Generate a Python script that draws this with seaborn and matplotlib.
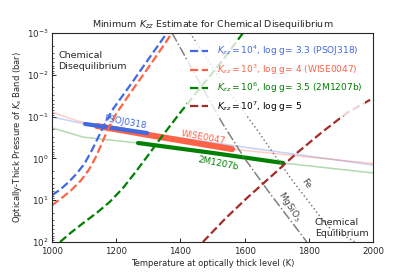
import numpy as np
import matplotlib
matplotlib.use("Agg")
import matplotlib.pyplot as plt
import seaborn as sns

# Kzz quench curves: temperature (K) and log10 pressure (bar)
psoj_T = [1000, 1025, 1050, 1075, 1100, 1120, 1140, 1165, 1190, 1250, 1300, 1358]
psoj_logP = [0.88, 0.75, 0.58, 0.38, 0.14, -0.13, -0.44, -0.84, -1.18, -1.82, -2.37, -3.0]
wise_T = [1000, 1030, 1060, 1090, 1115, 1135, 1155, 1175, 1200, 1250, 1310, 1374]
wise_logP = [1.12, 0.95, 0.76, 0.53, 0.27, -0.01, -0.35, -0.71, -1.07, -1.63, -2.28, -3.0]
m1207_T = [1025, 1060, 1100, 1140, 1180, 1220, 1260, 1300, 1340, 1400, 1460, 1530, 1595]
m1207_logP = [2.0, 1.77, 1.53, 1.30, 1.04, 0.72, 0.33, -0.08, -0.5, -1.1, -1.67, -2.33, -3.0]
k7_T = [1470, 1540, 1607, 1690, 1763, 1840, 1919, 2000]
k7_logP = [2.0, 1.44, 0.95, 0.38, -0.13, -0.62, -1.09, -1.44]

# photospheric P-T profiles (thin) and the fitted ranges (thick)
prof_T = {
    "psoj": [1000, 1103, 1300, 1600, 2000],
    "wise": [1000, 1070, 1140, 1350, 1561, 1800, 2000],
    "m1207": [1000, 1097, 1270, 1500, 1720, 2000],
}
prof_P = {
    "psoj": [0.102, 0.150, 0.25, 0.54, 1.44],
    "wise": [0.078, 0.12, 0.168, 0.32, 0.60, 0.93, 1.32],
    "m1207": [0.186, 0.31, 0.43, 0.74, 1.29, 2.23],
}
range_T = {"psoj": [1103, 1296], "wise": [1140, 1561], "m1207": [1268, 1720]}

# condensation curves
fe_T = [1430, 1530, 1639, 1748, 1860, 1944]
fe_logP = [-3.0, -1.83, -0.68, 0.52, 1.64, 2.0]
mg_T = [1374, 1450, 1530, 1600, 1680, 1794]
mg_logP = [-3.0, -1.95, -0.85, 0.0, 0.85, 2.0]

blue, red, green, dred = "royalblue", "tomato", "green", "brown"

sns.set_style("ticks")
plt.rcParams["font.family"] = ["DejaVu Sans"]
plt.rcParams["xtick.direction"] = "in"
plt.rcParams["ytick.direction"] = "in"

fig = plt.figure(figsize=(4.15, 2.77), dpi=100)
ax = fig.add_axes([0.1253, 0.1264, 0.7735, 0.7545])


def draw(x, y, **kw):
    sns.lineplot(x=x, y=y, ax=ax, sort=False, estimator=None, **kw)


def topow(lp):
    return 10 ** np.array(lp)


# thin profiles
for key, c in [("psoj", blue), ("wise", red), ("m1207", green)]:
    draw(prof_T[key], prof_P[key], color=c, alpha=0.3, lw=1.1)


# thick segments
def seg(key):
    T = np.array(prof_T[key])
    P = np.array(prof_P[key])
    lo, hi = range_T[key]
    tt = np.linspace(lo, hi, 30)
    return tt, 10 ** np.interp(tt, T, np.log10(P))


tw, pw = seg("wise")
draw(tw, pw, color=red, lw=4.4)
tp, pp = seg("psoj")
draw(tp, pp, color=blue, lw=3.0)
tm, pm = seg("m1207")
draw(tm, pm, color=green, lw=3.0)

# condensation curves
draw(mg_T, topow(mg_logP), color="grey", lw=1.1, linestyle="-.")
draw(fe_T, topow(fe_logP), color="grey", lw=1.1, linestyle=":")

# Kzz curves
draw(psoj_T, topow(psoj_logP), color=blue, lw=1.6, linestyle="--",
     label=r"$K_{zz}=10^4$, log g= 3.3 (PSOJ318)")
draw(wise_T, topow(wise_logP), color=red, lw=1.6, linestyle="--",
     label=r"$K_{zz}=10^3$, log g= 4 (WISE0047)")
draw(m1207_T, topow(m1207_logP), color=green, lw=1.6, linestyle="--",
     label=r"$K_{zz}=10^6$, log g= 3.5 (2M1207b)")
draw(k7_T, topow(k7_logP), color=dred, lw=1.6, linestyle="--",
     label=r"$K_{zz}=10^7$, log g= 5")

ax.set_yscale("log")
ax.set_xlim(1000, 2000)
ax.set_ylim(100, 0.001)
ax.set_xticks([1000, 1200, 1400, 1600, 1800, 2000])
ax.tick_params(labelsize=6.2, length=3, width=0.7)
ax.tick_params(axis="x", pad=3.5)
ax.tick_params(axis="y", pad=2.5)
ax.tick_params(which="minor", length=1.7, width=0.5)
for s in ax.spines.values():
    s.set_linewidth(0.8)
    s.set_visible(True)

ax.set_title(r"Minimum $K_{zz}$ Estimate for Chemical Disequilibrium", fontsize=6.8, pad=4)
ax.set_xlabel("Temperature at optically thick level (K)", fontsize=6.0, labelpad=2)
ax.set_ylabel(r"Optically-Thick Pressure of $K_s$ Band (bar)", fontsize=6.0, labelpad=2)

leg = ax.legend(loc="upper right", fontsize=6.5, frameon=True, framealpha=0.8,
                edgecolor="none", handlelength=2.0, handletextpad=1.0,
                borderaxespad=0.9, borderpad=0.3, labelspacing=0.45)
for t, c in zip(leg.get_texts(), [blue, red, green, "black"]):
    t.set_color(c)

ax.text(1020, 10 ** -2.33, "Chemical\nDisequilibrium", fontsize=6.8, va="center", ha="left")
ax.text(1819, 10 ** 1.67, "Chemical\nEquilibrium", fontsize=6.8, va="center", ha="left")
ax.text(1227, 10 ** -0.87, "PSOJ0318", color=blue, fontsize=6.4, rotation=-10,
        ha="center", va="center")
ax.text(1470, 10 ** -0.51, "WISE0047", color=red, fontsize=6.4, rotation=-10,
        ha="center", va="center")
ax.text(1517, 10 ** 0.13, "2M1207b", color=green, fontsize=6.4, rotation=-11,
        ha="center", va="center")
ax.text(1792, 10 ** 0.6, "Fe", color="#444444", fontsize=6.4, rotation=-55,
        ha="center", va="center")
ax.text(1742, 10 ** 1.16, r"MgSiO$_3$", color="#444444", fontsize=6.4, rotation=-57,
        ha="center", va="center")

fig.savefig("out.png", dpi=100)
